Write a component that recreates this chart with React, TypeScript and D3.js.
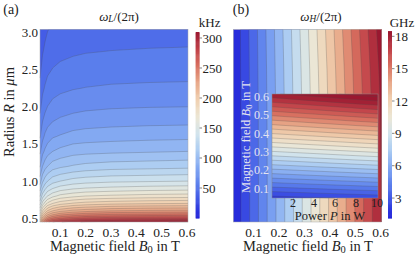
import { useEffect, useRef } from "react"
import * as d3 from "d3"

// panel (a): omega_L/(2 pi) in kHz, columns = B0 (T), rows = R (um)
const bA = [0.02, 0.03, 0.04, 0.05, 0.07, 0.1, 0.15, 0.2, 0.3, 0.45, 0.604]
const rA = [0.45, 0.5, 0.55, 0.6, 0.7, 0.8, 0.9, 1.0, 1.2, 1.4, 1.6, 1.8, 2.0, 2.25, 2.5, 2.75, 3.04]
const omegaL = [
    [211, 239, 255, 267, 280, 289, 297, 302, 306, 309, 311],
    [190, 216, 230, 241, 252, 260, 267, 272, 276, 279, 280],
    [173, 196, 209, 219, 229, 237, 243, 247, 251, 253, 254],
    [159, 180, 191, 201, 210, 217, 223, 226, 230, 232, 233],
    [136, 154, 164, 172, 180, 186, 191, 194, 197, 199, 200],
    [119, 135, 143, 150, 157, 163, 167, 170, 172, 174, 175],
    [106, 120, 128, 134, 140, 145, 149, 151, 153, 155, 156],
    [95, 108, 115, 120, 126, 130, 134, 136, 138, 139, 140],
    [79, 90, 96, 100, 105, 108, 111, 113, 115, 116, 117],
    [68, 77, 82, 86, 90, 93, 96, 97, 98, 99, 100],
    [59, 67, 72, 75, 79, 81, 84, 85, 86, 87, 87.5],
    [53, 60, 64, 67, 70, 72, 74, 75.5, 76.6, 77.4, 77.8],
    [47.6, 53.9, 57.4, 60.2, 63, 65.1, 66.9, 67.9, 69, 69.7, 70],
    [42.3, 47.9, 51, 53.5, 56, 57.8, 59.4, 60.3, 61.3, 61.9, 62.2],
    [38.1, 43.1, 45.9, 48.2, 50.4, 52.1, 53.5, 54.3, 55.2, 55.7, 56],
    [34.6, 39.2, 41.7, 43.8, 45.8, 47.3, 48.6, 49.4, 50.1, 50.6, 50.9],
    [31.3, 35.5, 37.8, 39.6, 41.5, 42.9, 44, 44.7, 45.4, 45.9, 46.1],
]
const levelsA = d3.range(30, 320, 10)

// panel (b): omega_H/(2 pi) in GHz, columns = B0 (T), rows = R (um)
const bB = [0.02, 0.1, 0.2, 0.3, 0.4, 0.5, 0.604]
const rB = [0.45, 1.0, 1.5, 2.0, 2.5, 3.04]
const omegaH = [
    [1.13, 3.45, 6.35, 9.25, 12.15, 15.05, 18.07],
    [1.13, 3.45, 6.35, 9.25, 12.15, 15.05, 18.07],
    [1.13, 3.46, 6.36, 9.27, 12.17, 15.08, 18.11],
    [1.14, 3.47, 6.39, 9.31, 12.22, 15.14, 18.18],
    [1.15, 3.5, 6.45, 9.39, 12.33, 15.28, 18.34],
    [1.16, 3.55, 6.54, 9.53, 12.51, 15.5, 18.61],
]
const levelsB = d3.range(2, 19, 1)

// inset: omega_H/(2 pi) in GHz, columns = power P (W), rows = B0 (T)
const pIn = [0, 2, 4, 6, 8, 10.1]
const bIn = [0.05, 0.2, 0.4, 0.615]
const omegaHP = [
    [2.0, 2.1, 2.2, 2.3, 2.4, 2.5],
    [6.3, 6.45, 6.6, 6.75, 6.9, 7.05],
    [12.1, 12.3, 12.5, 12.7, 12.9, 13.1],
    [18.3, 18.55, 18.8, 19.05, 19.3, 19.55],
]
const levelsIn = d3.range(2.3, 19.6, 0.7)

const bTicks = [0.1, 0.2, 0.3, 0.4, 0.5, 0.6]
const rTicks = [0.5, 1.0, 1.5, 2.0, 2.5, 3.0]
const kHzTicks = [50, 100, 150, 200, 250, 300]
const GHzTicks = [3, 6, 9, 12, 15, 18]
const pTicks = [2, 4, 6, 8, 10]
const bInTicks = [0.1, 0.2, 0.3, 0.4, 0.5, 0.6]

const palette = ["#2020d8", "#3c50e4", "#5c80ec", "#82a8f2", "#aacbf2", "#d2e4ec",
    "#ece6d4", "#f0d0b0", "#e8a888", "#d87060", "#c04048", "#9a1830"]
const interp = d3.piecewise(d3.interpolateRgb, palette)

const font = "Liberation Serif, Times New Roman, DejaVu Serif, serif"

type Part = { t: string, i?: boolean, sub?: boolean }

function richText(g: any, x: number, y: number, parts: Part[], size: number, anchor = "middle", rotate = false, fill = "#222") {
    const t = g.append("text")
        .attr("text-anchor", anchor)
        .attr("dominant-baseline", "central")
        .style("font-family", font)
        .style("font-size", size + "px")
        .attr("fill", fill)
    if (rotate) t.attr("transform", `translate(${x},${y}) rotate(-90)`)
    else t.attr("x", x).attr("y", y)
    parts.forEach((p) => {
        const s = t.append("tspan").text(p.t)
        if (p.i) s.style("font-style", "italic")
        if (p.sub) s.attr("baseline-shift", "-30%").style("font-size", size * 0.72 + "px")
    })
    return t
}

function tickText(sel: any, size = 13, fill = "#222") {
    return sel.attr("dominant-baseline", "central")
        .style("font-family", font).style("font-size", size + "px").attr("fill", fill)
}

function drawContours(g: any, grid: number[][], xs: number[], ys: number[], levels: number[],
    xScale: any, yScale: any, color: any) {
    const nx = xs.length, ny = ys.length
    const ix = d3.scaleLinear().domain(d3.range(nx)).range(xs).clamp(true)
    const iy = d3.scaleLinear().domain(d3.range(ny)).range(ys).clamp(true)
    const toPx = (p: number[]) => [xScale(ix(p[0] - 0.5)), yScale(iy(p[1] - 0.5))]
    const left = xScale(xs[0]), right = xScale(xs[nx - 1])
    const top = yScale(ys[ny - 1]), bottom = yScale(ys[0])
    const near = (a: number, b: number) => Math.abs(a - b) < 0.01
    const onEdge = (a: number[], b: number[]) =>
        (near(a[0], left) && near(b[0], left)) || (near(a[0], right) && near(b[0], right)) ||
        (near(a[1], top) && near(b[1], top)) || (near(a[1], bottom) && near(b[1], bottom))

    const step = levels[1] - levels[0]
    g.append("rect")
        .attr("x", left).attr("y", top)
        .attr("width", right - left).attr("height", bottom - top)
        .attr("fill", color(levels[0] - step / 2))

    const bands = d3.contours().size([nx, ny]).thresholds(levels)(grid.flat())
    const lines: string[] = []
    bands.forEach((band) => {
        let fill = "", line = ""
        band.coordinates.forEach((poly) => poly.forEach((ring) => {
            const pts = ring.map(toPx)
            fill += "M" + pts.map((p) => p.join(",")).join("L") + "Z"
            let pen = false
            for (let j = 1; j < pts.length; j++) {
                if (onEdge(pts[j - 1], pts[j])) { pen = false; continue }
                if (!pen) { line += `M${pts[j - 1][0]},${pts[j - 1][1]}`; pen = true }
                line += `L${pts[j][0]},${pts[j][1]}`
            }
        }))
        if (fill) g.append("path").attr("d", fill).attr("fill-rule", "evenodd")
            .attr("fill", color(band.value + step / 2))
        lines.push(line)
    })
    lines.forEach((d) => g.append("path").attr("d", d).attr("fill", "none")
        .attr("stroke", "#4a4a4a").attr("stroke-opacity", 0.5).attr("stroke-width", 0.5))
}

function colorBar(g: any, x: number, w: number, scale: any, color: any, ticks: number[], unit: string) {
    const [lo, hi] = scale.domain()
    const dv = (hi - lo) / 200
    const vals = d3.range(lo, hi, dv)
    g.selectAll(null).data(vals).join("rect")
        .attr("x", x).attr("width", w)
        .attr("y", (d: number) => scale(d + dv))
        .attr("height", Math.abs(scale(lo) - scale(lo + dv)) + 0.6)
        .attr("fill", (d: number) => color(d))
    g.selectAll(null).data(ticks).join("line")
        .attr("x1", x + w).attr("x2", x + w + 2.5)
        .attr("y1", (d: number) => scale(d)).attr("y2", (d: number) => scale(d))
        .attr("stroke", "#333").attr("stroke-width", 0.6)
    tickText(g.selectAll(null).data(ticks).join("text")
        .attr("x", x + w + 3).attr("y", (d: number) => scale(d)))
        .text((d: number) => d)
    tickText(g.append("text").attr("x", x + 14).attr("y", 22).attr("text-anchor", "middle"))
        .text(unit)
}

export default function App() {
    const ref = useRef<SVGSVGElement>(null)

    useEffect(() => {
        const svg = d3.select(ref.current)
        svg.selectAll("*").remove()

        const colorA = d3.scaleSequential(interp).domain([0, 310]).clamp(true)
        const colorB = d3.scaleSequential(interp).domain([1.15, 18.4]).clamp(true)

        // ---- panel (a)
        const xA = d3.scaleLinear().domain([0.02, 0.604]).range([40, 188])
        const yR = d3.scaleLinear().domain([0.45, 3.04]).range([222, 29.5])
        const gA = svg.append("g")
        drawContours(gA, omegaL, bA, rA, levelsA, xA, yR, colorA)
        gA.append("rect").attr("x", 40).attr("y", 29.5).attr("width", 148).attr("height", 192.5)
            .attr("fill", "none").attr("stroke", "#aaa").attr("stroke-width", 0.5)

        tickText(svg.append("g").selectAll(null).data(rTicks).join("text")
            .attr("x", 38).attr("y", (d) => yR(d)).attr("text-anchor", "end"))
            .text((d: number) => d.toFixed(1))

        const bLabels = (x: any) => tickText(svg.append("g").selectAll(null).data(bTicks).join("text")
            .attr("x", (d) => x(d)).attr("y", 232).attr("text-anchor", "middle"), 13.5)
            .text((d: number) => d.toFixed(1))
        bLabels(xA)

        const bTitle = [{ t: "Magnetic field " }, { t: "B", i: true }, { t: "0", sub: true }, { t: " in T" }]
        richText(svg, 115, 246, bTitle, 14.5)
        richText(svg, 9, 112, [{ t: "Radius " }, { t: "R", i: true }, { t: " in " }, { t: "μ", i: true }, { t: "m" }], 14.5, "middle", true)
        richText(svg, 11, 9, [{ t: "(a)" }], 14)
        richText(svg, 119, 16, [{ t: "ω", i: true }, { t: "L", i: true, sub: true }, { t: "/(2π)" }], 13)

        const cA = d3.scaleLinear().domain([0, 310]).range([218, 32])
        colorBar(svg.append("g"), 195.7, 3.8, cA, colorA, kHzTicks, "kHz")

        // ---- panel (b)
        const xB = d3.scaleLinear().domain([0.02, 0.604]).range([233.3, 381.7])
        const gB = svg.append("g")
        drawContours(gB, omegaH, bB, rB, levelsB, xB, yR, colorB)
        gB.append("rect").attr("x", 233.3).attr("y", 29.5).attr("width", 148.4).attr("height", 192.5)
            .attr("fill", "none").attr("stroke", "#aaa").attr("stroke-width", 0.5)
        bLabels(xB)
        richText(svg, 308, 246, bTitle, 14.5)
        richText(svg, 241, 9, [{ t: "(b)" }], 14)
        richText(svg, 321, 16, [{ t: "ω", i: true }, { t: "H", i: true, sub: true }, { t: "/(2π)" }], 13)

        const cB = d3.scaleLinear().domain([1.15, 18.4]).range([218, 32])
        colorBar(svg.append("g"), 388, 4, cB, colorB, GHzTicks, "GHz")

        // ---- inset
        const xP = d3.scaleLinear().domain([0, 10.1]).range([272, 378])
        const yIn = d3.scaleLinear().domain([0.05, 0.615]).range([198, 94])
        const gI = svg.append("g")
        drawContours(gI, omegaHP, pIn, bIn, levelsIn, xP, yIn, colorB)
        gI.append("rect").attr("x", 272).attr("y", 94).attr("width", 106).attr("height", 104)
            .attr("fill", "none").attr("stroke", "#888").attr("stroke-width", 0.5)

        tickText(svg.append("g").selectAll(null).data(bInTicks).join("text")
            .attr("x", 269).attr("y", (d) => yIn(d)).attr("text-anchor", "end"), 12, "#e4e4f0")
            .text((d: number) => d.toFixed(1))
        tickText(svg.append("g").selectAll(null).data(pTicks).join("text")
            .attr("x", (d) => xP(d)).attr("y", 203).attr("text-anchor", "middle"), 12)
            .text((d: number) => d)
        richText(svg, 330, 215.5, [{ t: "Power " }, { t: "P", i: true }, { t: " in W" }], 12.5)
        richText(svg, 246, 137, bTitle, 12.5, "middle", true, "#e4e4f0")
    }, [])

    return (
        <svg ref={ref} width={415} height={257}
            style={{ position: "absolute", left: 0, top: 0, background: "#fff" }} />
    )
}
